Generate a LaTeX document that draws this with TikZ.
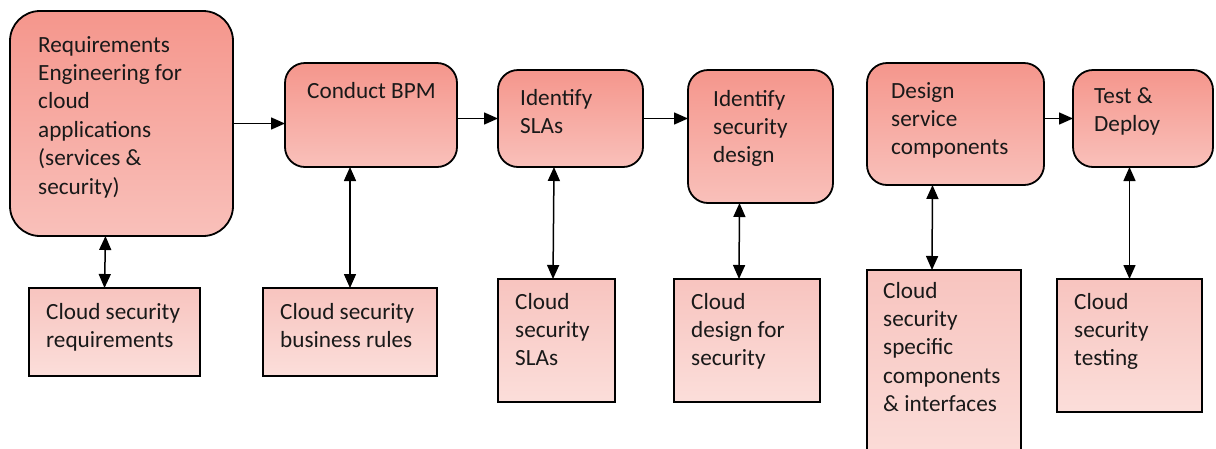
\documentclass[tikz,border=0pt]{standalone}
\usepackage{fontspec}
\setmainfont{Carlito}
\usetikzlibrary{arrows.meta}
\definecolor{topA}{RGB}{245,150,140}
\definecolor{topB}{RGB}{249,192,186}
\definecolor{botA}{RGB}{248,196,191}
\definecolor{botB}{RGB}{251,222,218}
\newcommand\boxlines[1]{\begin{tabular}[t]{@{}l@{}}#1\end{tabular}}
\begin{document}
\begin{tikzpicture}[x=1pt,y=-1pt,
  procbox/.style={draw=black, line width=1.8pt, rounded corners=20pt, top color=topA, bottom color=topB, anchor=north west, inner sep=0pt, outer sep=0pt},
  infobox/.style={draw=black, line width=1.8pt, top color=botA, bottom color=botB, anchor=north west, inner sep=0pt, outer sep=0pt},
  lbl/.style={anchor=base west, inner sep=0pt, font=\fontsize{23.2}{28.4}\selectfont, text=black!90},
  flow/.style={line width=1.5pt, -{Triangle[length=14pt,width=12pt]}},
  link/.style={line width=1.5pt, {Triangle[length=14pt,width=12pt]}-{Triangle[length=14pt,width=12pt]}}
]
\clip (0,0) rectangle (1216,448);
\fill[white] (0,0) rectangle (1216,448);

% process boxes
\node[procbox, rounded corners=30pt, minimum width=223pt, minimum height=225pt] (req) at (10,11) {};
\node[procbox, minimum width=172pt, minimum height=104pt] (bpm) at (285,63) {};
\node[procbox, minimum width=145pt, minimum height=97pt] (sla) at (498,70) {};
\node[procbox, minimum width=145pt, minimum height=133pt] (idsec) at (688,70) {};
\node[procbox, minimum width=177pt, minimum height=122pt] (design) at (867,63) {};
\node[procbox, minimum width=140pt, minimum height=97pt] (test) at (1073,70) {};

% info boxes
\node[infobox, minimum width=171pt, minimum height=88pt] (csr) at (29,288) {};
\node[infobox, minimum width=174pt, minimum height=88pt] (biz) at (263,288) {};
\node[infobox, minimum width=117pt, minimum height=123pt] (slab) at (498,279) {};
\node[infobox, minimum width=146pt, minimum height=123pt] (dfs) at (674,279) {};
\node[infobox, minimum width=154pt, minimum height=200pt] (spec) at (867,270) {};
\node[infobox, minimum width=145pt, minimum height=133pt] (cst) at (1057,279) {};

% labels
\node[lbl] (reqt) at (38,52) {\boxlines{Requirements\\Engineering for\\cloud\\applications\\(services \&\\security)}};
\node[lbl] (bpmt) at (307,98) {\boxlines{Conduct BPM}};
\node[lbl] (slat) at (520,105) {\boxlines{Identify\\SLAs}};
\node[lbl] (idsect) at (713,106) {\boxlines{Identify\\security\\design}};
\node[lbl] (designt) at (891,98) {\boxlines{Design\\service\\components}};
\node[lbl] (testt) at (1094,103) {\boxlines{Test \&\\Deploy}};
\node[lbl] (csrt) at (46,319) {\boxlines{Cloud security\\requirements}};
\node[lbl] (bizt) at (280,319) {\boxlines{Cloud security\\business rules}};
\node[lbl] (slabt) at (515,309) {\boxlines{Cloud\\security\\SLAs}};
\node[lbl] (dfst) at (691,309) {\boxlines{Cloud\\design for\\security}};
\node[lbl] (spect) at (883,298) {\boxlines{Cloud\\security\\specific\\components\\\& interfaces}};
\node[lbl] (cstt) at (1074,309) {\boxlines{Cloud\\security\\testing}};

% flow arrows
\draw[flow] (req.east) -- (req.east -| bpm.west);
\draw[flow] (bpm.east |- sla.west) -- (sla.west);
\draw[flow] (sla.east) -- (sla.east -| idsec.west);
\draw[flow] (test.west -| design.east) -- (test.west);

% vertical double arrows
\draw[link] ([xshift=-16pt]req.south) -- ([xshift=-10pt]csr.north);
\draw[link] (bpm.south -| biz.north) -- (biz.north);
\draw[link] ([xshift=-16.5pt]sla.south) -- ([xshift=-3.5pt]slab.north);
\draw[link] ([xshift=-21pt]idsec.south) -- ([xshift=-8pt]dfs.north);
\draw[link] ([xshift=-23pt]design.south) -- ([xshift=-12pt]spec.north);
\draw[link] (test.south -| cst.north) -- (cst.north);
\end{tikzpicture}
\end{document}
